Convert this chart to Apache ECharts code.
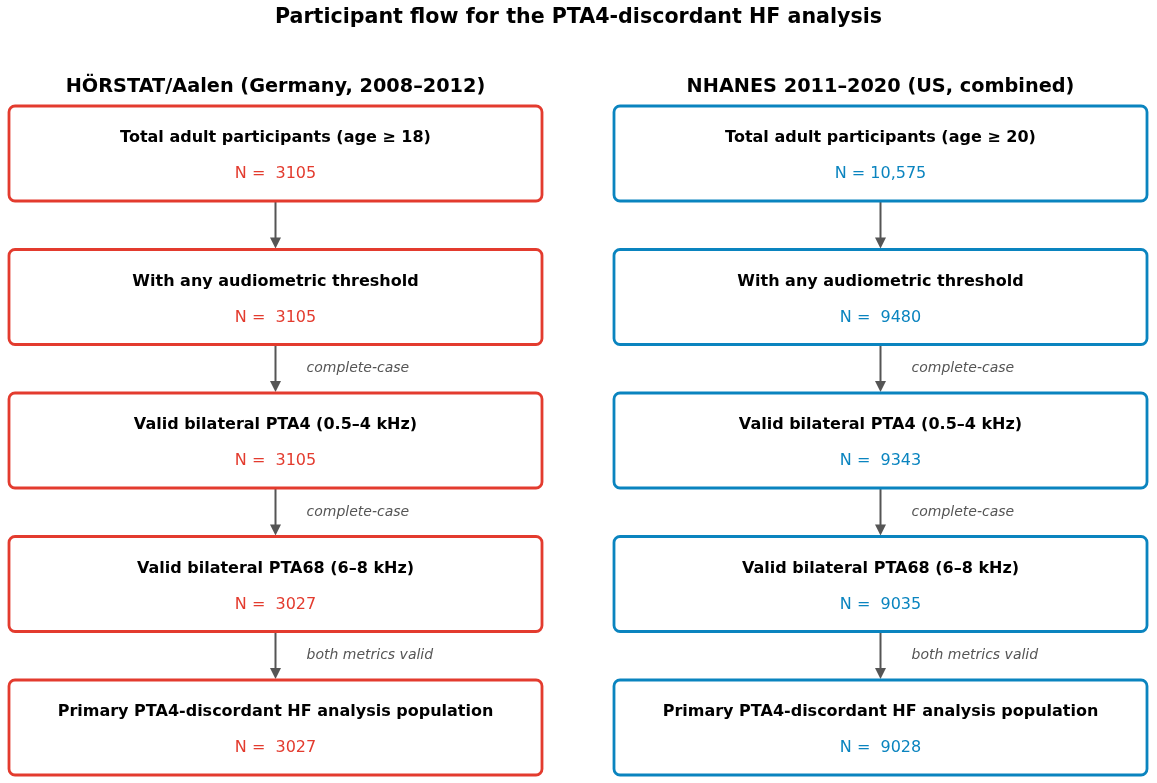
<!DOCTYPE html>
<html>
<head>
<meta charset="utf-8">
<script src="https://cdn.jsdelivr.net/npm/echarts@6/dist/echarts.min.js"></script>
<style>
  html, body { margin: 0; padding: 0; background: #fff; }
  #chart { width: 1157px; height: 783px; }
</style>
</head>
<body>
<div id="chart"></div>
<script>
// cohorts (columns) and their flow stages (rows)
const cohorts = ['HÖRSTAT/Aalen (Germany, 2008–2012)', 'NHANES 2011–2020 (US, combined)'];
const cohortColors = ['#e33b2e', '#0a84bf'];
const stages = [
    'Total adult participants (age ≥ 18)',
    'With any audiometric threshold',
    'Valid bilateral PTA4 (0.5–4 kHz)',
    'Valid bilateral PTA68 (6–8 kHz)',
    'Primary PTA4-discordant HF analysis population'
];
const stagesUS = [
    'Total adult participants (age ≥ 20)',
    'With any audiometric threshold',
    'Valid bilateral PTA4 (0.5–4 kHz)',
    'Valid bilateral PTA68 (6–8 kHz)',
    'Primary PTA4-discordant HF analysis population'
];
const countsDE = [3105, 3105, 3105, 3027, 3027];
const countsUS = [10575, 9480, 9343, 9035, 9028];
// label on the arrow leading into each stage (stage 0 has none)
const stepLabels = ['', '', 'complete-case', 'complete-case', 'both metrics valid'];

const BOX_W = 533, BOX_H = 95;
const FONT = '"DejaVu Sans", sans-serif';

const fmtN = n => 'N = ' + (n < 10000 ? ' ' + n : n.toLocaleString('en-US'));

const boxData = [];
[stages, stagesUS].forEach((list, c) => {
    const counts = c === 0 ? countsDE : countsUS;
    list.forEach((name, r) => boxData.push([c, r, name, fmtN(counts[r])]));
});

const arrowData = [];
[0, 1].forEach(c => {
    for (let r = 1; r < stages.length; r++) arrowData.push([c, r, stepLabels[r]]);
});

const chart = echarts.init(document.getElementById('chart'));
chart.setOption({
    backgroundColor: '#fff',
    animation: false,
    title: [
        { text: 'Participant flow for the PTA4-discordant HF analysis', left: 'center', top: 2,
          textStyle: { fontFamily: FONT, fontSize: 20.6, fontWeight: 'bold', color: '#000' } },
        ...cohorts.map((t, i) => ({
            text: t, left: i === 0 ? 275.5 : 880.5, top: 77, padding: 0, textAlign: 'center',
            textStyle: { fontFamily: FONT, fontSize: 19.3, fontWeight: 'bold', color: '#000' }
        }))
    ],
    grid: { left: 275.5, right: 276.5, top: 153.5, bottom: 55.5 },
    xAxis: { type: 'value', min: 0, max: 1, show: false },
    yAxis: { type: 'value', min: 0, max: 4, inverse: true, show: false },
    series: [
        {
            type: 'custom',
            data: arrowData,
            renderItem(params, api) {
                const c = api.value(0), r = api.value(1);
                const p0 = api.coord([c, r - 1]);
                const p1 = api.coord([c, r]);
                const y0 = p0[1] + BOX_H / 2 + 1;
                const y1 = p1[1] - BOX_H / 2 - 1;
                const x = p0[0];
                const label = stepLabels[r];
                const children = [
                    { type: 'line', shape: { x1: x, y1: y0, x2: x, y2: y1 - 10 },
                      style: { stroke: '#555', lineWidth: 2 } },
                    { type: 'polygon', shape: { points: [[x - 5.5, y1 - 11], [x + 5.5, y1 - 11], [x, y1]] },
                      style: { fill: '#555' } }
                ];
                if (label) {
                    children.push({ type: 'text', x: x + 31, y: (y0 + y1) / 2,
                        style: { text: label, fontFamily: FONT, fontSize: 14, fontStyle: 'italic',
                                 fill: '#555', verticalAlign: 'middle', align: 'left' } });
                }
                return { type: 'group', children };
            }
        },
        {
            type: 'custom',
            data: boxData,
            renderItem(params, api) {
                const c = api.value(0), r = api.value(1);
                const [cx, cy] = api.coord([c, r]);
                const d = boxData[params.dataIndex];
                const col = cohortColors[c];
                return {
                    type: 'group',
                    children: [
                        { type: 'rect',
                          shape: { x: cx - BOX_W / 2, y: cy - BOX_H / 2, width: BOX_W, height: BOX_H, r: 6 },
                          style: { fill: '#fff', stroke: col, lineWidth: 2.8 } },
                        { type: 'text', x: cx, y: cy - 15.5,
                          style: { text: d[2], fontFamily: FONT, fontSize: 16, fontWeight: 'bold',
                                   fill: '#000', align: 'center', verticalAlign: 'middle' } },
                        { type: 'text', x: cx, y: cy + 20.5,
                          style: { text: d[3], fontFamily: FONT, fontSize: 16, whiteSpace: 'pre',
                                   fill: col, align: 'center', verticalAlign: 'middle' } }
                    ]
                };
            }
        }
    ]
});
</script>
</body>
</html>
